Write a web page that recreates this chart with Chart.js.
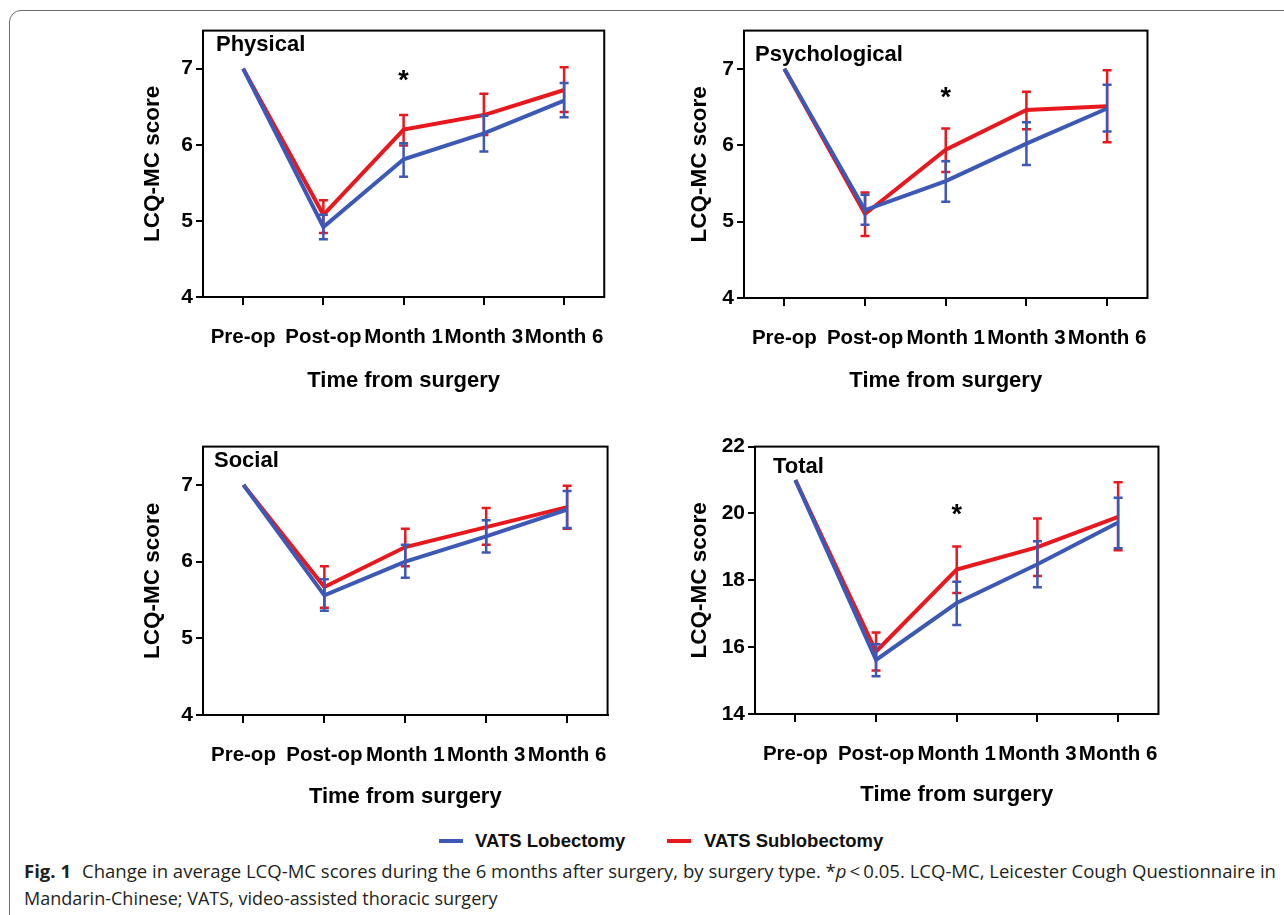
<!DOCTYPE html>
<html>
<head>
<meta charset="utf-8">
<script src="https://cdn.jsdelivr.net/npm/chart.js@4.4.0/dist/chart.umd.min.js"></script>
<style>
  body { margin: 0; background: #fff; width: 1284px; height: 915px; overflow: hidden; position: relative; }
  .frame { position: absolute; left: 9px; top: 10px; width: 1320px; height: 1000px;
           border: 1.5px solid #6b6b6b; border-radius: 12px; }
  canvas { position: absolute; }
  .legend { position: absolute; font: bold 18.5px "Liberation Sans", Arial, sans-serif; color: #111; }
  .sw { position: absolute; height: 4px; width: 24px; }
  .cap { position: absolute; left: 24px; white-space: nowrap; font: 18.5px "Open Sans", sans-serif;
         color: #231f20; transform-origin: left center; line-height: 24px; }
  .cap b { font-weight: bold; margin-right: 11px; }
</style>
</head>
<body>
<div class="frame"></div>
<canvas id="physical" width="486" height="379" style="left:139px;top:15px"></canvas>
<canvas id="psychological" width="482" height="379" style="left:686px;top:15px"></canvas>
<canvas id="social" width="489" height="379" style="left:139px;top:431px"></canvas>
<canvas id="total" width="493" height="377" style="left:686px;top:431px"></canvas>

<div class="sw" style="left:439px;top:839px;background:#3d59b5"></div>
<div class="legend" style="left:475px;top:830px">VATS Lobectomy</div>
<div class="sw" style="left:667px;top:839px;background:#e8191e"></div>
<div class="legend" style="left:704px;top:830px">VATS Sublobectomy</div>

<div class="cap" id="cap1" style="top:859px"><b>Fig. 1</b>Change in average LCQ-MC scores during the 6 months after surgery, by surgery type. *<i>p</i>&#8201;&lt;&#8201;0.05. LCQ-MC, Leicester Cough Questionnaire in</div>
<div class="cap" id="cap2" style="top:886px">Mandarin-Chinese; VATS, video-assisted thoracic surgery</div>

<script>
// Categories on the x axis
const timePoints = ['Pre-op', 'Post-op', 'Month 1', 'Month 3', 'Month 6'];

// Physical domain
const physLob = [7, 4.92, 5.81, 6.15, 6.58];
const physLobLo = [null, 4.76, 5.58, 5.91, 6.36];
const physLobHi = [null, 5.08, 6.02, 6.38, 6.81];
const physSub = [7, 5.08, 6.20, 6.39, 6.72];
const physSubLo = [null, 4.84, 5.99, 6.13, 6.43];
const physSubHi = [null, 5.27, 6.39, 6.67, 7.02];

// Psychological domain
const psychLob = [7, 5.15, 5.53, 6.02, 6.48];
const psychLobLo = [null, 4.96, 5.26, 5.74, 6.18];
const psychLobHi = [null, 5.35, 5.79, 6.30, 6.79];
const psychSub = [7, 5.10, 5.94, 6.46, 6.51];
const psychSubLo = [null, 4.81, 5.65, 6.21, 6.04];
const psychSubHi = [null, 5.38, 6.22, 6.70, 6.98];

// Social domain
const socLob = [7, 5.56, 6.00, 6.33, 6.68];
const socLobLo = [null, 5.36, 5.79, 6.12, 6.44];
const socLobHi = [null, 5.77, 6.22, 6.54, 6.92];
const socSub = [7, 5.67, 6.19, 6.45, 6.71];
const socSubLo = [null, 5.40, 5.94, 6.22, 6.43];
const socSubHi = [null, 5.94, 6.43, 6.70, 6.99];

// Total score
const totLob = [21, 15.62, 17.32, 18.48, 19.73];
const totLobLo = [null, 15.13, 16.66, 17.79, 18.96];
const totLobHi = [null, 16.09, 17.96, 19.17, 20.47];
const totSub = [21, 15.87, 18.32, 18.99, 19.90];
const totSubLo = [null, 15.30, 17.62, 18.13, 18.90];
const totSubHi = [null, 16.44, 19.01, 19.85, 20.93];

// Axis ticks
const domainTicks = [4, 5, 6, 7];
const totalTicks = [14, 16, 18, 20, 22];

// Significance marks (* at Month 1)
const physStar = 6.89;
const psychStar = 6.68;
const totStar = 20.08;

const BLUE = '#3d59b5';
const RED = '#e8191e';
const FONT = '"Liberation Sans", Arial, sans-serif';

Chart.defaults.font.family = FONT;
Chart.defaults.color = '#000';

// error bars drawn right after each line so blue stays on top of red
const errorBars = {
    id: 'errorBars',
    afterDatasetDraw(chart, args) {
        const ds = chart.data.datasets[args.index];
        if (!ds.errLo) return;
        const y = chart.scales.y;
        const ctx = chart.ctx;
        ctx.save();
        ctx.strokeStyle = ds.borderColor;
        ctx.lineWidth = 2.5;
        args.meta.data.forEach((pt, i) => {
            if (ds.errLo[i] == null) return;
            const y1 = y.getPixelForValue(ds.errLo[i]);
            const y2 = y.getPixelForValue(ds.errHi[i]);
            ctx.beginPath();
            ctx.moveTo(pt.x, y1); ctx.lineTo(pt.x, y2);
            ctx.moveTo(pt.x - 4.5, y1); ctx.lineTo(pt.x + 4.5, y1);
            ctx.moveTo(pt.x - 4.5, y2); ctx.lineTo(pt.x + 4.5, y2);
            ctx.stroke();
        });
        ctx.restore();
    }
};

// box around the plot, panel name and the asterisk
const panelDecor = {
    id: 'panelDecor',
    beforeDatasetsDraw(chart, args, opts) {
        const { left, top } = chart.chartArea;
        const ctx = chart.ctx;
        ctx.save();
        ctx.font = 'bold 22px ' + FONT;
        ctx.fillStyle = '#000';
        ctx.textBaseline = 'middle';
        ctx.fillText(opts.name, left + opts.nameDx, top + opts.nameDy);
        if (opts.star != null) {
            ctx.font = 'bold 27px ' + FONT;
            ctx.textAlign = 'center';
            const x = chart.scales.x.getPixelForValue(2);
            ctx.fillText('*', x, chart.scales.y.getPixelForValue(opts.star) + 5);
        }
        ctx.restore();
    },
    afterDraw(chart) {
        const { left, top, right, bottom } = chart.chartArea;
        const ctx = chart.ctx;
        ctx.save();
        ctx.strokeStyle = '#000';
        ctx.lineWidth = 2;
        ctx.strokeRect(left, top, right - left, bottom - top);
        ctx.restore();
    }
};

function makePanel(id, lob, lobLo, lobHi, sub, subLo, subHi, yMin, yMax, ticks, yW, xH, decor) {
    new Chart(document.getElementById(id), {
        type: 'line',
        data: {
            labels: timePoints,
            datasets: [
                { label: 'VATS Lobectomy', data: lob, errLo: lobLo, errHi: lobHi,
                  borderColor: BLUE, borderWidth: 4, pointRadius: 0, tension: 0 },
                { label: 'VATS Sublobectomy', data: sub, errLo: subLo, errHi: subHi,
                  borderColor: RED, borderWidth: 4, pointRadius: 0, tension: 0 }
            ]
        },
        options: {
            responsive: false,
            animation: false,
            devicePixelRatio: 1,
            layout: { padding: { top: 12, right: 16, left: 0, bottom: 0 } },
            plugins: {
                legend: { display: false },
                tooltip: { enabled: false },
                panelDecor: decor
            },
            scales: {
                x: {
                    type: 'category',
                    offset: true,
                    afterFit: s => { s.height = xH; },
                    border: { color: '#000', width: 2 },
                    grid: { drawOnChartArea: false, tickLength: 8, color: '#000', lineWidth: 2 },
                    ticks: { font: { size: 20.5, weight: 'bold' }, color: '#000', padding: 20,
                             maxRotation: 0, autoSkip: false },
                    title: { display: true, text: 'Time from surgery', color: '#000',
                             font: { size: 22, weight: 'bold' }, padding: 0 }
                },
                y: {
                    min: yMin,
                    max: yMax,
                    afterBuildTicks: s => { s.ticks = ticks.map(v => ({ value: v })); },
                    afterFit: s => { s.width = yW; },
                    border: { color: '#000', width: 2 },
                    grid: { drawOnChartArea: false, tickLength: 7, color: '#000', lineWidth: 2 },
                    ticks: { font: { size: 21, weight: 'bold' }, color: '#000', padding: 3 },
                    title: { display: true, text: 'LCQ-MC score', color: '#000',
                             font: { size: 22.5, weight: 'bold' }, padding: 0 }
                }
            }
        },
        plugins: [errorBars, panelDecor]
    });
}

makePanel('physical', physLob, physLobLo, physLobHi, physSub, physSubLo, physSubHi,
    4, 7.5, domainTicks, 64, 97, { name: 'Physical', nameDx: 13, nameDy: 14, star: physStar });
makePanel('psychological', psychLob, psychLobLo, psychLobHi, psychSub, psychSubLo, psychSubHi,
    4, 7.5, domainTicks, 58, 96, { name: 'Psychological', nameDx: 11, nameDy: 24, star: psychStar });
makePanel('social', socLob, socLobLo, socLobHi, socSub, socSubLo, socSubHi,
    4, 7.5, domainTicks, 64, 95, { name: 'Social', nameDx: 11, nameDy: 14, star: null });
makePanel('total', totLob, totLobLo, totLobHi, totSub, totSubLo, totSubHi,
    14, 22, totalTicks, 69, 94, { name: 'Total', nameDx: 18, nameDy: 20, star: totStar });

// squeeze each caption line to the width of the printed line
const cap1 = document.getElementById('cap1');
const cap2 = document.getElementById('cap2');
cap1.style.transform = 'scaleX(' + (1252 / cap1.scrollWidth) + ')';
cap2.style.transform = 'scaleX(' + (474 / cap2.scrollWidth) + ')';
</script>
</body>
</html>
